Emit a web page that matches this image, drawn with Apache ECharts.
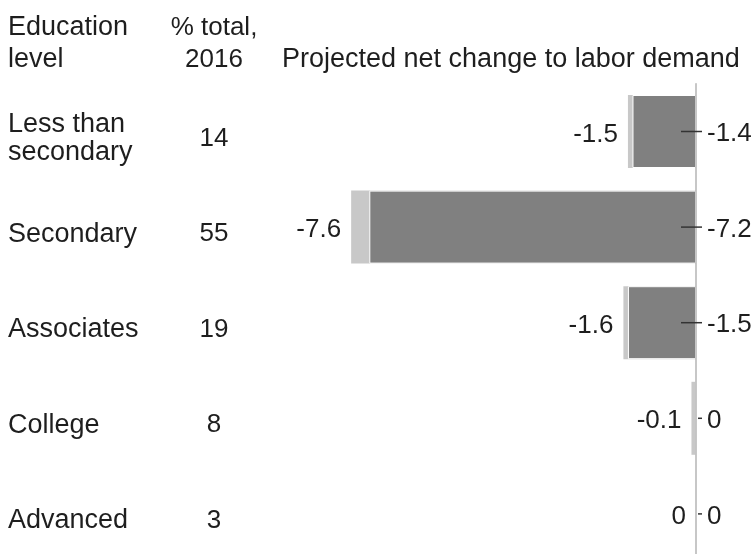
<!DOCTYPE html>
<html>
<head>
<meta charset="utf-8">
<script src="https://cdn.jsdelivr.net/npm/echarts@6/dist/echarts.min.js"></script>
<style>html,body{margin:0;padding:0;background:#fff;overflow:hidden;}#c{width:756px;height:570px;}</style>
</head>
<body>
<div id="c"></div>
<script>
const categories = ['Less than\nsecondary', 'Secondary', 'Associates', 'College', 'Advanced'];
const pctTotal2016 = ['14', '55', '19', '8', '3'];
const outerChange = [-1.5, -7.6, -1.6, -0.1, 0];
const netChange = [-1.4, -7.2, -1.5, 0, 0];
const headerEducation = 'Education\nlevel';
const headerPct = '% total,\n2016';
const headerChange = 'Projected net change to labor demand';

const FONT = 'Liberation Sans';
const FS = 26;
const FSW = 27;
const TXT = '#1e1e1e';
const fmt = v => (v === 0 ? '0' : v.toFixed(1));

const GT = 83.7, GH = 478;
const chart = echarts.init(document.getElementById('c'), null, {renderer: 'canvas'});
chart.setOption({
  animation: false,
  backgroundColor: '#fff',
  textStyle: {fontFamily: FONT},
  grid: [
    {left: 333, right: 60, top: GT, height: GH, containLabel: false},
    {left: 333, right: 60, top: GT + 7, height: GH, containLabel: false}
  ],
  xAxis: [
    {type: 'value', min: -8, max: 0, show: false, gridIndex: 0},
    {type: 'value', min: -8, max: 0, show: false, gridIndex: 1}
  ],
  yAxis: [
    {type: 'category', inverse: true, data: categories, position: 'right', z: 10, gridIndex: 0,
     axisLine: {show: true, lineStyle: {color: '#b4b4b4', width: 1.5}},
     axisTick: {show: false}, axisLabel: {show: false}, splitLine: {show: false}},
    {type: 'category', inverse: true, data: pctTotal2016, position: 'left', gridIndex: 1,
     axisLine: {show: false}, axisTick: {show: false}, splitLine: {show: false},
     axisLabel: {align: 'center', margin: 119, fontSize: FS, color: TXT, fontFamily: FONT}},
    {type: 'category', inverse: true, data: categories, position: 'left', gridIndex: 1,
     axisLine: {show: false}, axisTick: {show: false}, splitLine: {show: false},
     axisLabel: {align: 'left', margin: 325, fontSize: FSW, lineHeight: 28, color: TXT, fontFamily: FONT}}
  ],
  graphic: [
    {type: 'text', left: 8, top: 12, style: {text: headerEducation, font: FSW + 'px ' + FONT, fill: TXT, lineHeight: 32}},
    {type: 'text', x: 214, y: 12, style: {text: headerPct, font: FS + 'px ' + FONT, fill: TXT, lineHeight: 32, align: 'center'}},
    {type: 'text', left: 282, top: 44, style: {text: headerChange, font: FSW + 'px ' + FONT, fill: TXT, lineHeight: 32}}
  ],
  series: [
    {type: 'bar', xAxisIndex: 0, yAxisIndex: 0, data: outerChange, barWidth: 73, barGap: '-100%',
     itemStyle: {color: '#c8c8c8'},
     label: {show: true, position: 'left', distance: 10, formatter: p => fmt(p.value),
             fontSize: FS, color: TXT, fontFamily: FONT, offset: [0, 3]}},
    {type: 'bar', xAxisIndex: 0, yAxisIndex: 0, data: netChange, barWidth: 73, barGap: '-100%',
     itemStyle: {color: '#808080', borderColor: '#ffffff', borderWidth: 1}},
    {type: 'custom', xAxisIndex: 0, yAxisIndex: 0, z: 12, data: netChange.map((v, i) => [v, i]),
     encode: {x: 0, y: 1},
     renderItem: function (params, api) {
       const v = api.value(0), i = api.value(1);
       const p0 = api.coord([0, i]);
       const x0 = p0[0], y = p0[1];
       const x1 = v !== 0 ? x0 - 15 : x0 + 2;
       return {type: 'group', children: [
         {type: 'line', shape: {x1: x1, y1: y, x2: x0 + 6, y2: y},
          style: {stroke: '#333', lineWidth: 1.5}},
         {type: 'text', x: x0 + 11, y: y + 2.5,
          style: {text: fmt(v), font: FS + 'px ' + FONT, fill: TXT, verticalAlign: 'middle', align: 'left'}}
       ]};
     }}
  ]
});
</script>
</body>
</html>
